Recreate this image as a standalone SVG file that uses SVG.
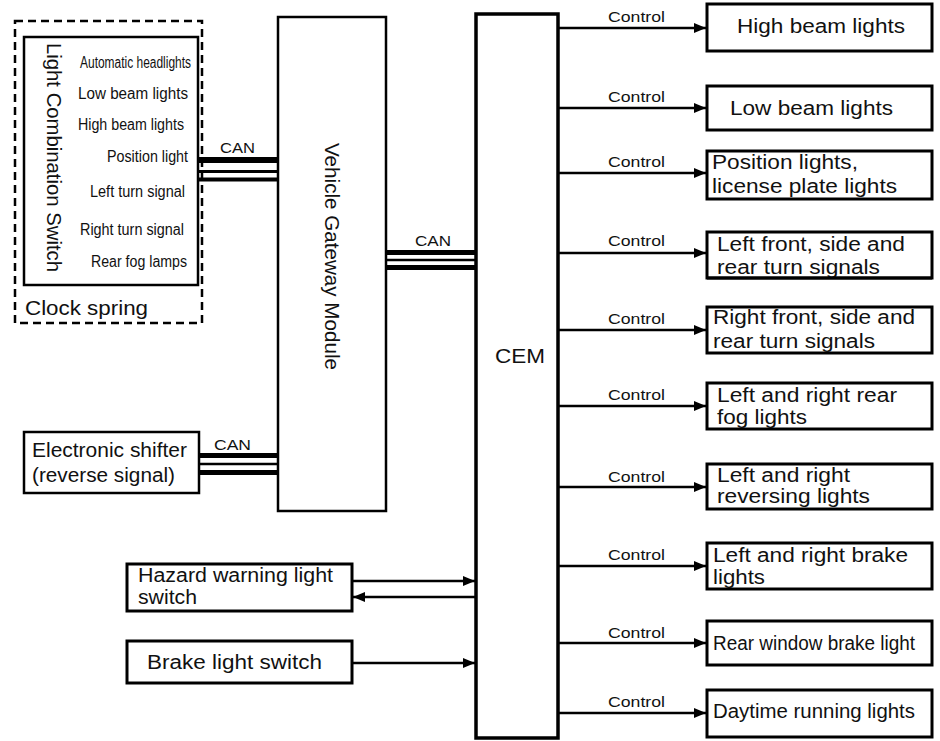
<svg xmlns="http://www.w3.org/2000/svg" width="940" height="741" viewBox="0 0 940 741">
<style>
text{font-family:"Liberation Sans",Arial,sans-serif;fill:#111;}
.box{fill:#fff;stroke:#000;stroke-width:3;}
.thin{fill:#fff;stroke:#000;stroke-width:2.5;}
.dash{fill:none;stroke:#000;stroke-width:2.5;stroke-dasharray:8 5;}
.big{font-size:20px;}
.sm{font-size:16px;}
.ctl{font-size:14px;}
.arr{stroke:#000;stroke-width:2.5;fill:none;marker-end:url(#ah);}
.bus{stroke:#000;fill:none;}
</style>
<defs>
<marker id="ah" viewBox="0 0 12 10" refX="12" refY="5" markerWidth="12" markerHeight="10" markerUnits="userSpaceOnUse" orient="auto">
<path d="M0,0 L12,5 L0,10 Z" fill="#000"/>
</marker>
</defs>
<g id="connectors">
<!-- CAN buses -->
<line class="bus" x1="198" y1="160" x2="278" y2="160" stroke-width="6"/>
<line class="bus" x1="198" y1="171.5" x2="278" y2="171.5" stroke-width="3"/>
<line class="bus" x1="198" y1="179.5" x2="278" y2="179.5" stroke-width="4"/>
<text class="ctl" x="220" y="153" textLength="35" lengthAdjust="spacingAndGlyphs">CAN</text>
<line class="bus" x1="386" y1="252.5" x2="476" y2="252.5" stroke-width="5"/>
<line class="bus" x1="386" y1="260" x2="476" y2="260" stroke-width="2.5"/>
<line class="bus" x1="386" y1="267.5" x2="476" y2="267.5" stroke-width="5"/>
<text class="ctl" x="415" y="246" textLength="36" lengthAdjust="spacingAndGlyphs">CAN</text>
<line class="bus" x1="198" y1="455.5" x2="278" y2="455.5" stroke-width="5"/>
<line class="bus" x1="198" y1="464" x2="278" y2="464" stroke-width="2.5"/>
<line class="bus" x1="198" y1="472.5" x2="278" y2="472.5" stroke-width="5"/>
<text class="ctl" x="214" y="450" textLength="37" lengthAdjust="spacingAndGlyphs">CAN</text>
<!-- inputs to CEM -->
<line class="arr" x1="352" y1="581" x2="475" y2="581"/>
<line class="arr" x1="475" y1="597" x2="353" y2="597"/>
<line class="arr" x1="352" y1="663" x2="475" y2="663"/>
<!-- control outputs -->
<line class="arr" x1="558" y1="28" x2="706" y2="28"/>
<text class="ctl" x="608" y="22" textLength="57" lengthAdjust="spacingAndGlyphs">Control</text>
<line class="arr" x1="558" y1="108" x2="706" y2="108"/>
<text class="ctl" x="608" y="102" textLength="57" lengthAdjust="spacingAndGlyphs">Control</text>
<line class="arr" x1="558" y1="173" x2="706" y2="173"/>
<text class="ctl" x="608" y="167" textLength="57" lengthAdjust="spacingAndGlyphs">Control</text>
<line class="arr" x1="558" y1="253" x2="706" y2="253"/>
<text class="ctl" x="608" y="246" textLength="57" lengthAdjust="spacingAndGlyphs">Control</text>
<line class="arr" x1="558" y1="330" x2="706" y2="330"/>
<text class="ctl" x="608" y="324" textLength="57" lengthAdjust="spacingAndGlyphs">Control</text>
<line class="arr" x1="558" y1="406" x2="706" y2="406"/>
<text class="ctl" x="608" y="400" textLength="57" lengthAdjust="spacingAndGlyphs">Control</text>
<line class="arr" x1="558" y1="487" x2="706" y2="487"/>
<text class="ctl" x="608" y="482" textLength="57" lengthAdjust="spacingAndGlyphs">Control</text>
<line class="arr" x1="558" y1="566" x2="706" y2="566"/>
<text class="ctl" x="608" y="560" textLength="57" lengthAdjust="spacingAndGlyphs">Control</text>
<line class="arr" x1="558" y1="643" x2="706" y2="643"/>
<text class="ctl" x="608" y="638" textLength="57" lengthAdjust="spacingAndGlyphs">Control</text>
<line class="arr" x1="558" y1="713" x2="706" y2="713"/>
<text class="ctl" x="608" y="707" textLength="57" lengthAdjust="spacingAndGlyphs">Control</text>
</g>
<g id="clock-spring">
<rect class="dash" x="15" y="21" width="187" height="302"/>
<text class="big" x="25" y="315" textLength="123" lengthAdjust="spacingAndGlyphs">Clock spring</text>
</g>
<g id="light-combination-switch">
<rect class="thin" x="24" y="37" width="174" height="248"/>
<text class="big" transform="translate(47,43) rotate(90)" textLength="229" lengthAdjust="spacingAndGlyphs">Light Combination Switch</text>
<text class="sm" x="80" y="68" textLength="111" lengthAdjust="spacingAndGlyphs">Automatic headlights</text>
<text class="sm" x="78" y="99" textLength="110" lengthAdjust="spacingAndGlyphs">Low beam lights</text>
<text class="sm" x="78" y="130" textLength="106" lengthAdjust="spacingAndGlyphs">High beam lights</text>
<text class="sm" x="107" y="162" textLength="81" lengthAdjust="spacingAndGlyphs">Position light</text>
<text class="sm" x="90" y="197" textLength="95" lengthAdjust="spacingAndGlyphs">Left turn signal</text>
<text class="sm" x="80" y="235" textLength="104" lengthAdjust="spacingAndGlyphs">Right turn signal</text>
<text class="sm" x="91" y="267" textLength="96" lengthAdjust="spacingAndGlyphs">Rear fog lamps</text>
</g>
<g id="vehicle-gateway-module">
<rect class="thin" x="278" y="17" width="108" height="494"/>
<text class="big" transform="translate(325,143) rotate(90)" textLength="227" lengthAdjust="spacingAndGlyphs">Vehicle Gateway Module</text>
</g>
<g id="electronic-shifter">
<rect class="thin" x="24" y="432" width="175" height="61"/>
<text class="big" x="32" y="457" textLength="155" lengthAdjust="spacingAndGlyphs">Electronic shifter</text>
<text class="big" x="32" y="482" textLength="143" lengthAdjust="spacingAndGlyphs">(reverse signal)</text>
</g>
<g id="hazard-switch">
<rect class="box" x="127" y="564" width="225" height="47"/>
<text class="big" x="138" y="582" textLength="195" lengthAdjust="spacingAndGlyphs">Hazard warning light</text>
<text class="big" x="138" y="604" textLength="59" lengthAdjust="spacingAndGlyphs">switch</text>
</g>
<g id="brake-switch">
<rect class="box" x="127" y="641" width="225" height="42"/>
<text class="big" x="147" y="669" textLength="175" lengthAdjust="spacingAndGlyphs">Brake light switch</text>
</g>
<g id="cem">
<rect x="476" y="14" width="82" height="724" fill="#fff" stroke="#000" stroke-width="3.5"/>
<text class="big" x="495" y="363" textLength="50" lengthAdjust="spacingAndGlyphs">CEM</text>
</g>
<g id="high-beam">
<rect class="box" x="707" y="4" width="225" height="47"/>
<text class="big" x="737" y="33" textLength="168" lengthAdjust="spacingAndGlyphs">High beam lights</text>
</g>
<g id="low-beam">
<rect class="box" x="707" y="86" width="225" height="44"/>
<text class="big" x="730" y="115" textLength="163" lengthAdjust="spacingAndGlyphs">Low beam lights</text>
</g>
<g id="position-lights">
<rect class="box" x="707" y="151" width="225" height="48"/>
<text class="big" x="712" y="169" textLength="146" lengthAdjust="spacingAndGlyphs">Position lights,</text>
<text class="big" x="712" y="193" textLength="185" lengthAdjust="spacingAndGlyphs">license plate lights</text>
</g>
<g id="left-turn">
<rect class="box" x="707" y="232" width="225" height="46"/>
<text class="big" x="717" y="251" textLength="188" lengthAdjust="spacingAndGlyphs">Left front, side and</text>
<text class="big" x="717" y="274" textLength="163" lengthAdjust="spacingAndGlyphs">rear turn signals</text>
<line x1="707" y1="278" x2="932" y2="278" stroke="#000" stroke-width="3"/>
</g>
<g id="right-turn">
<rect class="box" x="707" y="307" width="225" height="46"/>
<text class="big" x="713" y="324" textLength="202" lengthAdjust="spacingAndGlyphs">Right front, side and</text>
<text class="big" x="713" y="348" textLength="162" lengthAdjust="spacingAndGlyphs">rear turn signals</text>
</g>
<g id="rear-fog">
<rect class="box" x="707" y="383" width="225" height="46"/>
<text class="big" x="717" y="402" textLength="180" lengthAdjust="spacingAndGlyphs">Left and right rear</text>
<text class="big" x="717" y="424" textLength="90" lengthAdjust="spacingAndGlyphs">fog lights</text>
</g>
<g id="reversing">
<rect class="box" x="707" y="464" width="225" height="45"/>
<text class="big" x="717" y="482" textLength="133" lengthAdjust="spacingAndGlyphs">Left and right</text>
<text class="big" x="717" y="503" textLength="153" lengthAdjust="spacingAndGlyphs">reversing lights</text>
</g>
<g id="brake-lights">
<rect class="box" x="707" y="543" width="225" height="46"/>
<text class="big" x="713" y="562" textLength="195" lengthAdjust="spacingAndGlyphs">Left and right brake</text>
<text class="big" x="713" y="584" textLength="52" lengthAdjust="spacingAndGlyphs">lights</text>
</g>
<g id="rear-window-brake">
<rect class="box" x="707" y="621" width="225" height="44"/>
<text class="big" x="713" y="650" textLength="202" lengthAdjust="spacingAndGlyphs">Rear window brake light</text>
</g>
<g id="drl">
<rect class="box" x="707" y="690" width="225" height="47"/>
<text class="big" x="713" y="718" textLength="202" lengthAdjust="spacingAndGlyphs">Daytime running lights</text>
</g>
</svg>
